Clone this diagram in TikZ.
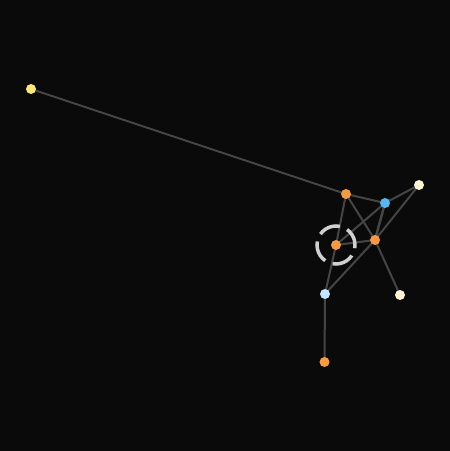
\documentclass[tikz,border=0pt]{standalone}
\begin{document}
\begin{tikzpicture}[x=1bp,y=-1bp,
  edge/.style={draw=edgegray,line width=2bp},
  dot/.style={circle,inner sep=0pt,minimum size=10bp,draw=none},
  ring/.style={draw=ringgray,line width=3.5bp,dash pattern=on 22bp off 8bp,dash phase=4bp}]
\definecolor{bg}{HTML}{0A0A0A}
\definecolor{edgegray}{HTML}{454545}
\definecolor{ringgray}{HTML}{D0D0D0}
\definecolor{cyellow}{HTML}{F7E77C}
\definecolor{corange}{HTML}{F59A45}
\definecolor{cblue}{HTML}{5AB6F2}
\definecolor{ccream}{HTML}{FDF3D6}
\definecolor{clblue}{HTML}{C6E4FA}
\fill[bg] (0,0) rectangle (450,451);
\useasboundingbox (0,0) rectangle (450,451);
\coordinate (A) at (31,89);
\coordinate (B) at (346,194);
\coordinate (C) at (385,203);
\coordinate (D) at (419,185);
\coordinate (E) at (336,245);
\coordinate (F) at (375,240);
\coordinate (G) at (325,294);
\coordinate (H) at (400,295);
\coordinate (I) at (324.5,362);
\draw[edge] (A) -- (B);
\draw[edge] (B) -- (C);
\draw[edge] (B) -- (E);
\draw[edge] (B) -- (F);
\draw[edge] (C) -- (D);
\draw[edge] (C) -- (E);
\draw[edge,line width=2.5bp] (C) -- (F);
\draw[edge] (D) -- (F);
\draw[edge] (E) -- (F);
\draw[edge] (E) -- (G);
\draw[edge] (F) -- (G);
\draw[edge] (F) -- (H);
\draw[edge] (G) -- (I);
\node[ring,circle,minimum size=38bp,inner sep=0pt] (ringE) at (E) {};
\node[dot,fill=cyellow] (nA) at (A) {};
\node[dot,fill=corange] (nB) at (B) {};
\node[dot,fill=cblue] (nC) at (C) {};
\node[dot,fill=ccream] (nD) at (D) {};
\node[dot,fill=corange] (nE) at (E) {};
\node[dot,fill=corange] (nF) at (F) {};
\node[dot,fill=clblue] (nG) at (G) {};
\node[dot,fill=ccream] (nH) at (H) {};
\node[dot,fill=corange] (nI) at (I) {};
\end{tikzpicture}
\end{document}
